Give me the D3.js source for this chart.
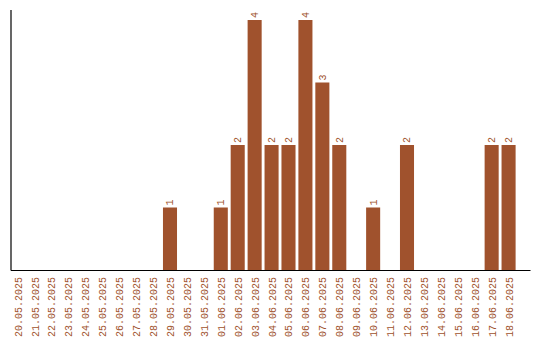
<!DOCTYPE html>
<html>
<head>
<meta charset="utf-8">
<script src="https://cdn.jsdelivr.net/npm/d3@7"></script>
<style>
  body { margin: 0; background: #fff; }
  text { font-family: "Liberation Mono", "DejaVu Sans Mono", monospace; fill: #A0522D; }
</style>
</head>
<body>
<div id="chart"></div>
<script>
const days = ["20.05.2025","21.05.2025","22.05.2025","23.05.2025","24.05.2025","25.05.2025",
  "26.05.2025","27.05.2025","28.05.2025","29.05.2025","30.05.2025","31.05.2025",
  "01.06.2025","02.06.2025","03.06.2025","04.06.2025","05.06.2025","06.06.2025",
  "07.06.2025","08.06.2025","09.06.2025","10.06.2025","11.06.2025","12.06.2025",
  "13.06.2025","14.06.2025","15.06.2025","16.06.2025","17.06.2025","18.06.2025"];
const counts = [0,0,0,0,0,0,0,0,0,1,0,0,1,2,4,2,2,4,3,2,0,1,0,2,0,0,0,0,2,2];

const width = 540, height = 340;
const barColor = "#A0522D";

const svg = d3.select("#chart").append("svg")
  .attr("width", width)
  .attr("height", height);

const x = d3.scaleBand()
  .domain(days)
  .range([10.6, 515.6])
  .paddingInner(0.17)
  .paddingOuter(0);

const y = d3.scaleLinear()
  .domain([0, 4])
  .range([270, 20]);

const data = days.map((d, i) => ({ day: d, n: counts[i] }));

// bars
svg.selectAll("rect.bar")
  .data(data.filter(d => d.n > 0))
  .join("rect")
  .attr("class", "bar")
  .attr("x", d => x(d.day))
  .attr("y", d => y(d.n))
  .attr("width", x.bandwidth())
  .attr("height", d => y(0) - y(d.n))
  .attr("fill", barColor);

// value labels above bars
svg.selectAll("text.val")
  .data(data.filter(d => d.n > 0))
  .join("text")
  .attr("class", "val")
  .attr("transform", d => `translate(${x(d.day) + x.bandwidth() / 2 + 3.5},${y(d.n) - 2}) rotate(-90)`)
  .attr("font-size", "10px")
  .text(d => d.n);

// axes lines
svg.append("line")
  .attr("x1", 11).attr("x2", 11)
  .attr("y1", 10).attr("y2", 270.5)
  .attr("stroke", "#000").attr("stroke-width", 1.2);
svg.append("line")
  .attr("x1", 11).attr("x2", 530.5)
  .attr("y1", 270.5).attr("y2", 270.5)
  .attr("stroke", "#000").attr("stroke-width", 1.2);

// date labels
svg.selectAll("text.day")
  .data(days)
  .join("text")
  .attr("class", "day")
  .attr("transform", d => `translate(${x(d) + x.bandwidth() / 2 + 4},${277}) rotate(-90)`)
  .attr("text-anchor", "end")
  .attr("font-size", "10px")
  .text(d => d);
</script>
</body>
</html>
